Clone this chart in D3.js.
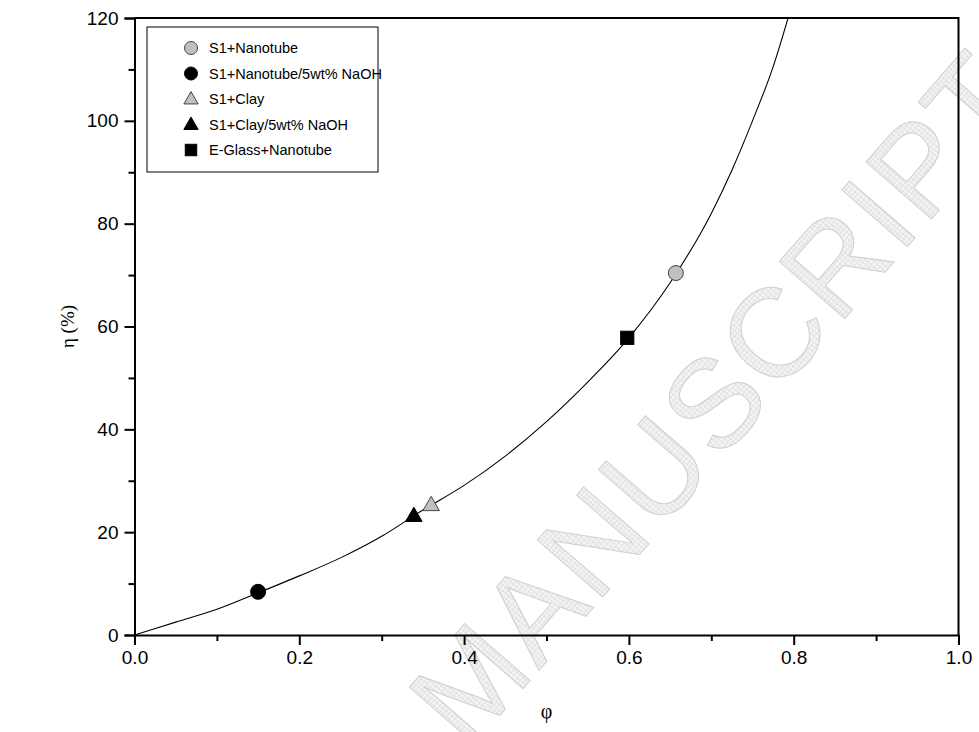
<!DOCTYPE html>
<html>
<head>
<meta charset="utf-8">
<script src="https://cdn.jsdelivr.net/npm/d3@7"></script>
<style>
  html, body { margin: 0; padding: 0; background: #fff; }
  svg { display: block; font-family: "Liberation Sans", Arial, sans-serif; }
</style>
</head>
<body>
<svg id="chart" width="979" height="732"></svg>
<script>
// ---- data ----
const xTicks = [0.0, 0.2, 0.4, 0.6, 0.8, 1.0];
const yTicks = [0, 20, 40, 60, 80, 100, 120];
const xMinor = [0.1, 0.3, 0.5, 0.7, 0.9];
const yMinor = [10, 30, 50, 70, 90, 110];

// fitted curve
const curvePhi = [0, 0.05, 0.10, 0.15, 0.20, 0.25, 0.30, 0.35, 0.40, 0.45, 0.50, 0.55, 0.60, 0.65, 0.70, 0.725, 0.75, 0.775, 0.795];
const curveEta = [0, 2.5, 5.0, 8.2, 11.5, 15.0, 19.2, 24.3, 29.1, 34.8, 41.5, 49.2, 57.8, 68.5, 82.0, 90.4, 100.0, 110.5, 121.0];

// data points
const seriesNames = ["S1+Nanotube", "S1+Nanotube/5wt% NaOH", "S1+Clay", "S1+Clay/5wt% NaOH", "E-Glass+Nanotube"];
const seriesPhi = [0.657, 0.15, 0.36, 0.339, 0.598];
const seriesEta = [70.4, 8.4, 25.3, 23.2, 57.8];
const seriesShape = ["circle", "circle", "triangle", "triangle", "square"];
const seriesFill = ["#c0c0c0", "#000000", "#c0c0c0", "#000000", "#000000"];

// ---- layout ----
const svg = d3.select("#chart");
const L = 134.5, R = 958.5, T = 18, B = 635;
const x = d3.scaleLinear().domain([0, 1]).range([L, R]);
const y = d3.scaleLinear().domain([0, 120]).range([B, T]);

// watermark pattern
const defs = svg.append("defs");
const pat = defs.append("pattern").attr("id", "hatch").attr("patternUnits", "userSpaceOnUse")
  .attr("width", 4).attr("height", 4);
pat.append("rect").attr("width", 4).attr("height", 4).attr("fill", "#f4f4f4");
pat.append("path").attr("d", "M0,0H4M0,0V4").attr("stroke", "#d4d4d4").attr("stroke-width", 1);

svg.append("text")
  .attr("transform", "translate(468,752) rotate(-49)")
  .attr("font-size", 126)
  .attr("font-family", "'Liberation Sans', Arial, sans-serif")
  .attr("fill", "url(#hatch)")
  .attr("stroke", "#cfcfcf")
  .attr("stroke-width", 1)
  .attr("letter-spacing", 3)
  .text("MANUSCRIPT");

// curve
const clipId = "plotclip";
svg.append("clipPath").attr("id", clipId).append("rect")
  .attr("x", L).attr("y", T).attr("width", R - L).attr("height", B - T);
const line = d3.line().x(d => x(d[0])).y(d => y(d[1])).curve(d3.curveMonotoneX);
svg.append("path")
  .datum(curvePhi.map((p, i) => [p, curveEta[i]]))
  .attr("clip-path", `url(#${clipId})`)
  .attr("d", line)
  .attr("fill", "none")
  .attr("stroke", "#000")
  .attr("stroke-width", 1.1);

// frame (top/right)
svg.append("path")
  .attr("d", `M${L},${T}H${R}V${B}`)
  .attr("fill", "none").attr("stroke", "#000").attr("stroke-width", 2);

// axes
const fontTick = 19;
const xAxis = d3.axisBottom(x).tickValues(xTicks).tickFormat(d3.format(".1f")).tickSizeOuter(0).tickSize(10).tickPadding(6);
const gx = svg.append("g").attr("transform", `translate(0,${B})`).call(xAxis);
const yAxis = d3.axisLeft(y).tickValues(yTicks).tickFormat(d3.format("d")).tickSizeOuter(0).tickSize(10).tickPadding(6);
const gy = svg.append("g").attr("transform", `translate(${L},0)`).call(yAxis);
[gx, gy].forEach(g => {
  g.select(".domain").attr("stroke-width", 2).attr("stroke", "#000");
  g.selectAll(".tick line").attr("stroke-width", 2).attr("stroke", "#000");
  g.selectAll(".tick text").attr("font-size", fontTick).attr("fill", "#000")
    .attr("font-family", "'Liberation Sans', Arial, sans-serif");
});
// minor ticks
svg.append("g").attr("transform", `translate(0,${B})`)
  .call(d3.axisBottom(x).tickValues(xMinor).tickFormat("").tickSize(6).tickSizeOuter(0))
  .call(g => g.select(".domain").remove())
  .selectAll("line").attr("stroke-width", 2);
svg.append("g").attr("transform", `translate(${L},0)`)
  .call(d3.axisLeft(y).tickValues(yMinor).tickFormat("").tickSize(6).tickSizeOuter(0))
  .call(g => g.select(".domain").remove())
  .selectAll("line").attr("stroke-width", 2);

// axis labels
svg.append("text")
  .attr("x", x(0.5)).attr("y", 718)
  .attr("text-anchor", "middle").attr("font-size", 20)
  .attr("font-family", "'Liberation Serif', 'Times New Roman', serif")
  .text("φ");
svg.append("text")
  .attr("transform", `translate(74,${y(60)}) rotate(-90)`)
  .attr("text-anchor", "middle").attr("font-size", 19)
  .attr("font-family", "'Liberation Serif', 'Times New Roman', serif")
  .text("η (%)");

// symbols
function drawSymbol(g, shape, cx, cy, fill, s) {
  if (shape === "circle") {
    g.append("circle").attr("cx", cx).attr("cy", cy).attr("r", s * 0.5)
      .attr("fill", fill).attr("stroke", fill === "#000000" ? "#000" : "#444").attr("stroke-width", 1);
  } else if (shape === "triangle") {
    const h = s * 0.95, w = s * 1.1;
    g.append("path")
      .attr("d", `M${cx},${cy - h * 0.6}L${cx + w / 2},${cy + h * 0.4}L${cx - w / 2},${cy + h * 0.4}Z`)
      .attr("fill", fill).attr("stroke", fill === "#000000" ? "#000" : "#444").attr("stroke-width", 1);
  } else {
    const w = s * 0.88;
    g.append("rect").attr("x", cx - w / 2).attr("y", cy - w / 2).attr("width", w).attr("height", w)
      .attr("fill", fill).attr("stroke", "#000").attr("stroke-width", 1);
  }
}
const gp = svg.append("g");
seriesNames.forEach((n, i) => {
  drawSymbol(gp, seriesShape[i], x(seriesPhi[i]), y(seriesEta[i]), seriesFill[i], 15);
});

// legend
const lg = svg.append("g");
const legX = 147, legY = 27, rowH = 25.5;
lg.append("rect").attr("x", legX).attr("y", legY).attr("width", 231).attr("height", 145)
  .attr("fill", "#fff").attr("stroke", "#000").attr("stroke-width", 1);
seriesNames.forEach((n, i) => {
  const cy = legY + 21 + i * rowH;
  drawSymbol(lg, seriesShape[i], legX + 44, cy, seriesFill[i], 13);
  lg.append("text").attr("x", legX + 62).attr("y", cy).attr("dy", "0.35em")
    .attr("font-size", 14.5).attr("font-family", "'Liberation Sans', Arial, sans-serif")
    .text(n);
});
</script>
</body>
</html>
